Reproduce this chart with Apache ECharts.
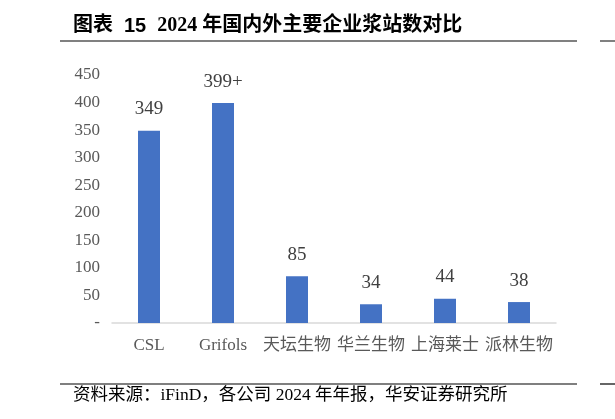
<!DOCTYPE html>
<html>
<head>
<meta charset="utf-8">
<script src="https://cdn.jsdelivr.net/npm/echarts@6/dist/echarts.min.js"></script>
<style>
html,body{margin:0;padding:0;background:#fff;}
#c{width:615px;height:419px;}
</style>
</head>
<body>
<div id="c"></div>
<script>
const categories = ['CSL', 'Grifols', '天坛生物', '华兰生物', '上海莱士', '派林生物'];
const stationCounts = [349, 399, 85, 34, 44, 38];
const valueLabels = ['349', '399+', '85', '34', '44', '38'];
const yTicks = { min: 0, max: 450, interval: 50 };

const serif = '"Liberation Serif", "Noto Sans CJK SC", serif';
const chart = echarts.init(document.getElementById('c'), null, { renderer: 'canvas' });
chart.setOption({
  backgroundColor: '#fff',
  animation: false,
  grid: { left: 112, right: 59, top: 75, bottom: 96, containLabel: false },
  xAxis: {
    type: 'category',
    data: categories,
    axisLine: { lineStyle: { color: '#d9d9d9', width: 1.5 } },
    axisTick: { show: false },
    axisLabel: { color: '#595959', fontFamily: serif, fontSize: 17, margin: 14, interval: 0 }
  },
  yAxis: {
    type: 'value',
    min: yTicks.min, max: yTicks.max, interval: yTicks.interval,
    axisLine: { show: false },
    axisTick: { show: false },
    splitLine: { show: false },
    axisLabel: {
      color: '#595959', fontFamily: serif, fontSize: 17, margin: 12,
      formatter: v => (v === 0 ? '-' : String(v))
    }
  },
  series: [{
    type: 'bar',
    data: stationCounts,
    barWidth: 22,
    itemStyle: { color: '#4472C4' },
    label: {
      show: true, position: 'top', distance: 12,
      color: '#404040', fontFamily: serif, fontSize: 19,
      formatter: p => valueLabels[p.dataIndex]
    }
  }],
  graphic: [
    { type: 'text', left: 73, top: 15, style: {
      text: '{a|图表}{s|  }{b|15}{s|  }{a|2024 }{a|年国内外主要企业浆站数对比}',
      rich: {
        a: { fontFamily: serif, fontWeight: 'bold', fontSize: 20, fill: '#000' },
        s: { fontFamily: serif, fontSize: 22, fill: '#000' },
        b: { fontFamily: '"Liberation Sans", Arial, sans-serif', fontWeight: 'bold', fontSize: 20, fill: '#000' }
      }
    } },
    { type: 'line', shape: { x1: 60, y1: 41, x2: 577, y2: 41 }, style: { stroke: '#808080', lineWidth: 2 } },
    { type: 'line', shape: { x1: 600, y1: 41, x2: 615, y2: 41 }, style: { stroke: '#808080', lineWidth: 2 } },
    { type: 'line', shape: { x1: 60, y1: 384, x2: 577, y2: 384 }, style: { stroke: '#000', lineWidth: 1.2 } },
    { type: 'line', shape: { x1: 600, y1: 384, x2: 615, y2: 384 }, style: { stroke: '#000', lineWidth: 1.2 } },
    { type: 'text', left: 73, top: 387, style: {
      text: '资料来源：iFinD，各公司 2024 年年报，华安证券研究所',
      fontFamily: serif, fontSize: 17.5, fill: '#000'
    } }
  ]
});
</script>
</body>
</html>
